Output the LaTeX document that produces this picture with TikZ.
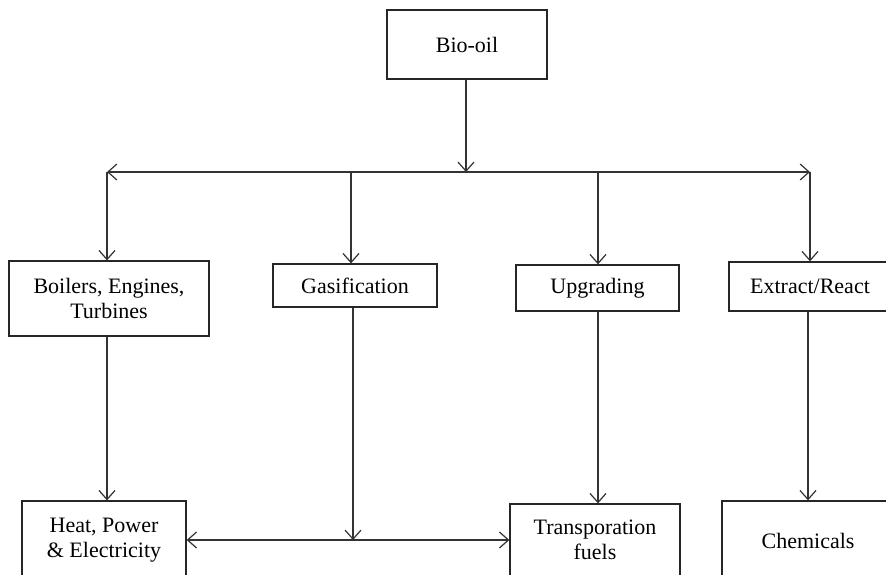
\documentclass[tikz,border=0pt]{standalone}
\usepackage{fontspec}
\setmainfont{Liberation Serif}
\usetikzlibrary{arrows.meta}
\tikzset{
  box/.style={draw=black!85, line width=1.3pt, fill=white, align=center, inner sep=0pt,
    font=\fontsize{22}{25}\selectfont},
  conn/.style={draw=black!80, line width=1.2pt},
  tip/.style={-{Straight Barb[length=9pt,width=16pt,line width=1.2pt]}},
  tips/.style={{Straight Barb[length=9pt,width=16pt,line width=1.2pt]}-{Straight Barb[length=9pt,width=16pt,line width=1.2pt]}}
}
\begin{document}
\begin{tikzpicture}[x=1pt,y=-1pt]
\useasboundingbox (0,0) rectangle (886,575);
\clip (0,0) rectangle (886,575);
\fill[white] (0,0) rectangle (886,575);
% nodes
\node[box, minimum width=160pt, minimum height=69pt] (bio) at (467,44.5) {Bio-oil};
\node[box, minimum width=200pt, minimum height=75pt] (boil) at (109,298.5) {Boilers, Engines,\\Turbines};
\node[box, minimum width=164pt, minimum height=43pt] (gas) at (355,285.5) {Gasification};
\node[box, minimum width=163pt, minimum height=46pt] (upg) at (597.5,288) {Upgrading};
\node[box, minimum width=162pt, minimum height=49pt] (ext) at (810,286.5) {Extract/React};
\node[box, minimum width=164pt, minimum height=78pt] (heat) at (104,540) {Heat, Power\\\& Electricity};
\node[box, minimum width=170pt, minimum height=72pt] (trans) at (595,540) {Transporation\\fuels};
\node[box, minimum width=172pt, minimum height=80pt] (chem) at (808,541) {Chemicals};
% junction coordinates
\coordinate (jtop) at (466,172);
\coordinate (jL) at (107,172);
\coordinate (jG) at (351,172);
\coordinate (jU) at (598,172);
\coordinate (jR) at (810,172);
\coordinate (jB) at (353,540);
% connectors
\draw[conn, tip] (bio.south -| jtop) -- (jtop);
\draw[conn, tips] (jL) -- (jR);
\draw[conn, tip] (jL) -- (jL |- boil.north);
\draw[conn, tip] (jG) -- (jG |- gas.north);
\draw[conn, tip] (jU) -- (jU |- upg.north);
\draw[conn, tip] (jR) -- (jR |- ext.north);
\draw[conn, tip] (boil.south -| jL) -- (heat.north -| jL);
\draw[conn, tip] (gas.south -| jB) -- (jB);
\draw[conn, tip] (upg.south -| jU) -- (trans.north -| jU);
\draw[conn, tip] (ext.south -| 808,0) -- (chem.north -| 808,0);
\draw[conn, tips] (heat.east |- jB) -- (trans.west |- jB);
\end{tikzpicture}
\end{document}
